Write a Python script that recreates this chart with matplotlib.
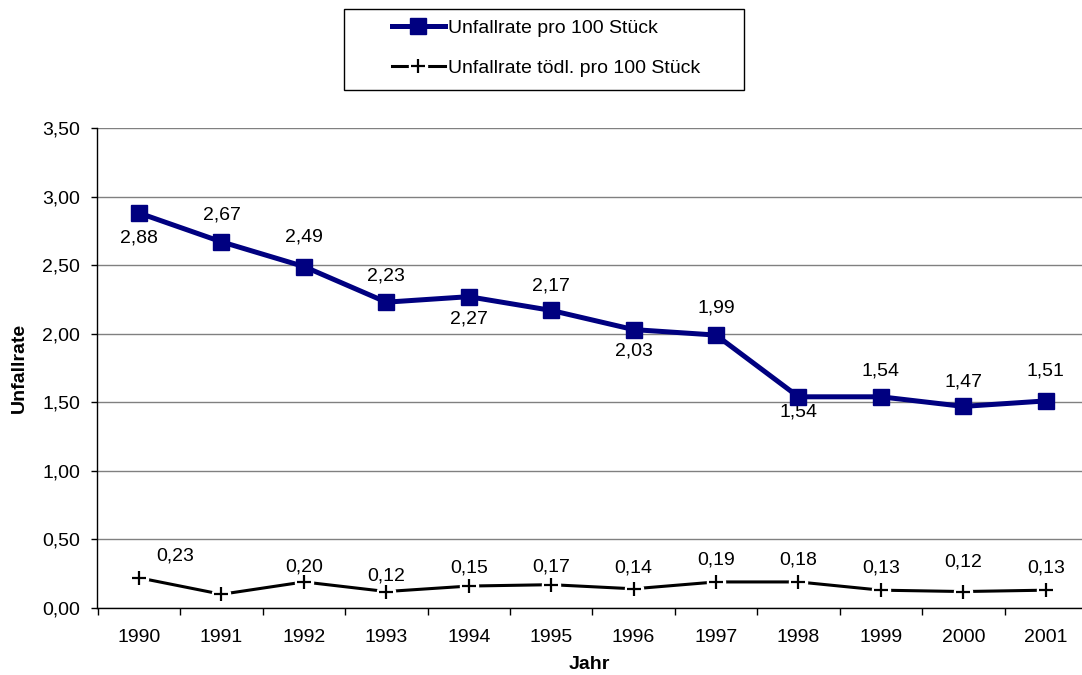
"""Unfallrate pro 100 Stück, 1990-2001 (Nachbau eines Excel-Diagramms)."""

import matplotlib

matplotlib.use("Agg")
import matplotlib.pyplot as plt
from matplotlib.legend_handler import HandlerTuple
from matplotlib.patches import Rectangle
from matplotlib.ticker import FuncFormatter

plt.rcParams["font.family"] = ["Liberation Sans", "DejaVu Sans"]

jahre = ["1990", "1991", "1992", "1993", "1994", "1995",
         "1996", "1997", "1998", "1999", "2000", "2001"]
unfallrate = [2.88, 2.67, 2.49, 2.23, 2.27, 2.17, 2.03, 1.99, 1.54, 1.54, 1.47, 1.51]
unfallrate_toedl = [0.22, 0.10, 0.19, 0.12, 0.16, 0.17, 0.14, 0.19, 0.19, 0.13, 0.12, 0.13]

# Beschriftungen wie im Original (1991 ohne Wert bei tödl.)
labels_rate = ["2,88", "2,67", "2,49", "2,23", "2,27", "2,17",
               "2,03", "1,99", "1,54", "1,54", "1,47", "1,51"]
labels_toedl = ["0,23", "", "0,20", "0,12", "0,15", "0,17",
                "0,14", "0,19", "0,18", "0,13", "0,12", "0,13"]

# Versatz der Beschriftungen in Pixeln (dx, dy)
offs_rate = [(0, -25), (0, 27), (0, 30), (0, 26), (0, -22), (0, 24),
             (0, -21), (0, 27), (0, -15), (0, 26), (0, 24), (0, 30)]
offs_toedl = [(36, 22), (0, 0), (0, 15), (0, 16), (0, 18), (0, 18),
              (0, 21), (0, 22), (0, 22), (0, 22), (0, 30), (0, 22)]

NAVY = "#000080"
FS = 14

fig = plt.figure(figsize=(10.82, 6.75), dpi=100)
ax = fig.add_axes([97 / 1082, 1 - 608 / 675, 1 - 97 / 1082, (608 - 128) / 675])

x = list(range(len(jahre)))

(l_rate,) = ax.plot(x, unfallrate, color=NAVY, lw=3.6, marker="s",
                    ms=11.5, mfc=NAVY, mec=NAVY, zorder=4)
(l_toedl,) = ax.plot(x, unfallrate_toedl, color="black", lw=2.2, zorder=3)
(l_gap,) = ax.plot(x, unfallrate_toedl, ls="none", marker="o", ms=13,
                   mfc="white", mec="white", zorder=3.5)
(l_plus,) = ax.plot(x, unfallrate_toedl, ls="none", marker="+", ms=10,
                    mew=1.6, color="black", zorder=4)

for xi, yi, lab, (dx, dy) in zip(x, unfallrate, labels_rate, offs_rate):
    ax.annotate(lab, (xi, yi), textcoords="offset pixels", xytext=(dx, dy),
                ha="center", va="center", fontsize=FS)
for xi, yi, lab, (dx, dy) in zip(x, unfallrate_toedl, labels_toedl, offs_toedl):
    if lab:
        ax.annotate(lab, (xi, yi), textcoords="offset pixels", xytext=(dx, dy),
                    ha="center", va="center", fontsize=FS)

ax.set_xlim(-0.51, 11.44)
ax.set_ylim(0, 3.5)
ax.set_yticks([i * 0.5 for i in range(8)])
ax.yaxis.set_major_formatter(FuncFormatter(lambda v, _: f"{v:.2f}".replace(".", ",")))
ax.grid(axis="y", color="#808080", lw=1.0)
ax.set_axisbelow(True)

ax.set_xticks(x)
ax.set_xticklabels(jahre)
ax.set_xticks([i - 0.5 for i in range(12)], minor=True)
ax.tick_params(axis="x", which="major", length=0, pad=15, labelsize=FS)
ax.tick_params(axis="x", which="minor", length=5, width=1, direction="out")
ax.tick_params(axis="y", length=4.3, width=1, pad=8, labelsize=FS)

for side in ("top", "right"):
    ax.spines[side].set_visible(False)
for side in ("left", "bottom"):
    ax.spines[side].set_linewidth(1.0)

ax.set_xlabel("Jahr", fontsize=FS, fontweight="bold", labelpad=7)
ax.set_ylabel("Unfallrate", fontsize=FS, fontweight="bold", labelpad=10)

leg = fig.legend(
    [l_rate, (l_toedl, l_gap, l_plus)],
    ["Unfallrate pro 100 Stück", "Unfallrate tödl. pro 100 Stück"],
    handler_map={tuple: HandlerTuple(ndivide=1, pad=0)},
    loc="upper left", bbox_to_anchor=(392 / 1082, 1 - 19 / 675),
    fontsize=FS, frameon=False,
    handlelength=2.7, handletextpad=0.2, labelspacing=1.18,
    borderpad=0, borderaxespad=0,
)
# Rahmen der Legende wie im Original
fig.add_artist(Rectangle((344 / 1082, 1 - 90 / 675), 400 / 1082, 81 / 675,
                         transform=fig.transFigure, fill=False,
                         edgecolor="black", lw=1.0))

fig.savefig("out.png", dpi=100)
